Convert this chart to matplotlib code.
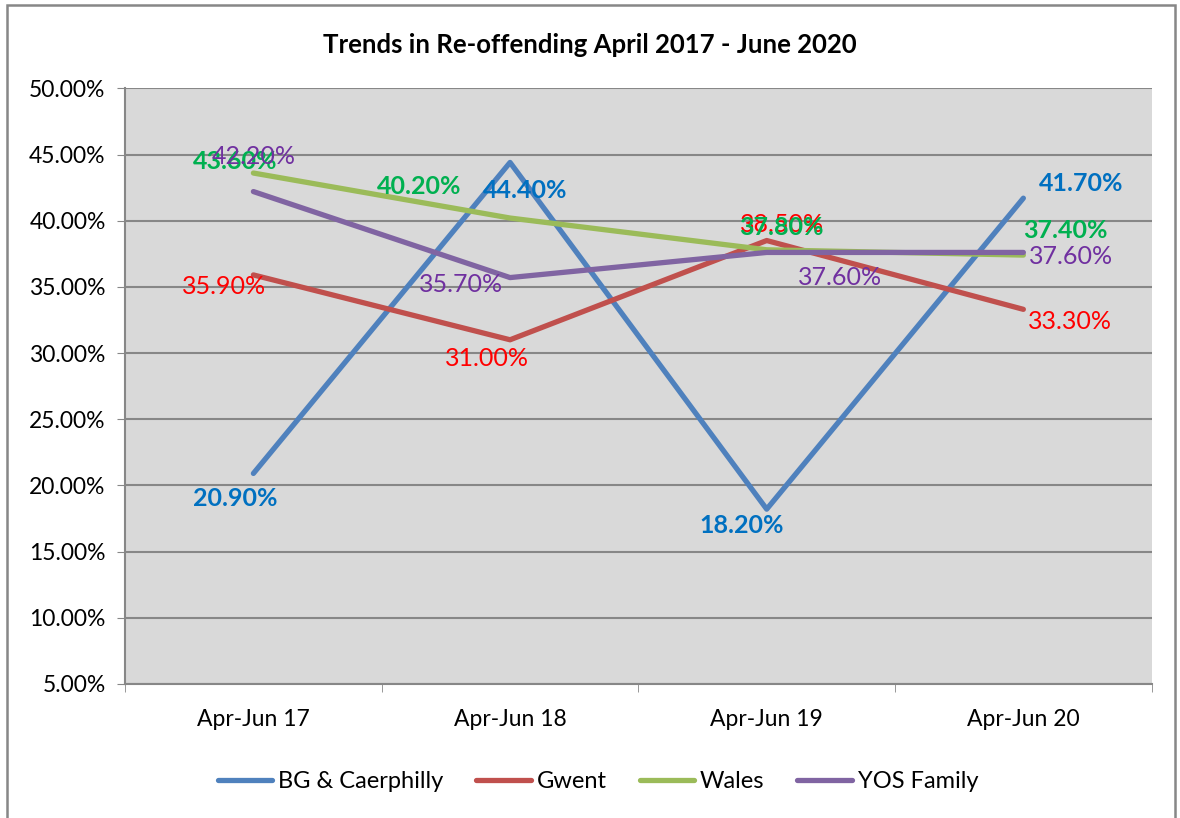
import matplotlib.pyplot as plt
from matplotlib.patches import Rectangle
from matplotlib.ticker import FuncFormatter, MultipleLocator

plt.rcParams['font.family'] = ['Lato', 'DejaVu Sans']

categories = ['Apr-Jun 17', 'Apr-Jun 18', 'Apr-Jun 19', 'Apr-Jun 20']
bg_caerphilly = [20.9, 44.4, 18.2, 41.7]
gwent = [35.9, 31.0, 38.5, 33.3]
wales = [43.6, 40.2, 37.8, 37.4]
yos_family = [42.2, 35.7, 37.6, 37.6]

# label offsets in pixels (dx, dy), picked to match the original placement
series = [
    ('BG & Caerphilly', bg_caerphilly, '#4F81BD', '#0070C0', 'bold',
     [(-18, -25), (15, -28), (-25, -16), (58, 15)]),
    ('Gwent', gwent, '#C0504D', '#FF0000', 'normal',
     [(-29, -12), (-23, -19), (15, 16), (47, -12)]),
    ('Wales', wales, '#9BBB59', '#00B050', 'bold',
     [(-18, 12), (-91, 32), (15, 22), (42, 25)]),
    ('YOS Family', yos_family, '#8064A2', '#7030A0', 'normal',
     [(0, 35), (-49, -7), (73, -25), (48, -4)]),
]

fig = plt.figure(figsize=(11.8, 8.18), dpi=100)
ax = fig.add_axes([0.106, 0.164, 0.870, 0.728])
ax.set_facecolor('#D9D9D9')

x = list(range(len(categories)))
for name, vals, col, lcol, weight, offs in series:
    ax.plot(x, vals, color=col, linewidth=3.8, solid_capstyle='round', label=name, zorder=3)
    for xi, v, (dx, dy) in zip(x, vals, offs):
        ax.annotate(f'{v:.2f}%', (xi, v), xytext=(dx * 0.72, dy * 0.72), textcoords='offset points',
                    ha='center', va='center', color=lcol, fontsize=18, fontweight=weight, zorder=4)

ax.set_xlim(-0.5, 3.5)
ax.set_ylim(5, 50)
ax.yaxis.set_major_locator(MultipleLocator(5))
ax.yaxis.set_major_formatter(FuncFormatter(lambda v, p: f'{v:.2f}%'))
ax.set_xticks(x)
ax.set_xticklabels(categories)
ax.set_xticks([-0.5, 0.5, 1.5, 2.5, 3.5], minor=True)
ax.tick_params(axis='x', which='major', length=0, pad=18, labelsize=16.5)
ax.tick_params(axis='x', which='minor', length=6, color='#878787')
ax.tick_params(axis='y', length=6, color='#878787', labelsize=16.5, pad=8)
ax.grid(axis='y', color='#878787', linewidth=1.5, zorder=1)
ax.set_axisbelow(True)
for s in ['top', 'right']:
    ax.spines[s].set_visible(False)
for s in ['left', 'bottom']:
    ax.spines[s].set_color('#878787')
    ax.spines[s].set_linewidth(1.5)

fig.text(0.5, 1 - 45 / 818, 'Trends in Re-offending April 2017 - June 2020', ha='center', va='center',
         fontsize=18.5, fontweight='bold')

fig.legend(*ax.get_legend_handles_labels(), loc='center', bbox_to_anchor=(598 / 1180, 1 - 782 / 818),
           ncol=4, frameon=False, fontsize=17, handlelength=2.3, columnspacing=1.4, handletextpad=0.25)

fig.patches.append(Rectangle((7 / 1180, -0.01), 1168 / 1180, 1 - 5 / 818 + 0.01,
                             transform=fig.transFigure, fill=False, edgecolor='#878787', linewidth=1.8))

fig.savefig('out.png', dpi=100)
